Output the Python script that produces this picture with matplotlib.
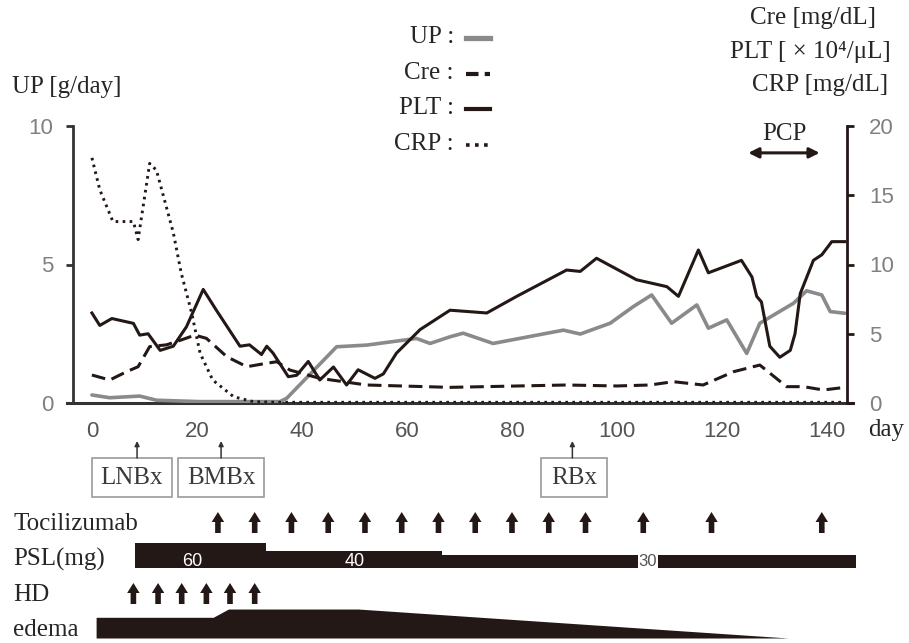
import matplotlib
matplotlib.use('AGG')
import matplotlib.pyplot as plt
import matplotlib.transforms as mtransforms
from matplotlib.lines import Line2D
from matplotlib.patches import FancyArrow, Rectangle

# ---- data ----
# UP [g/day] (left axis)
up_days = [0, 3.4, 9.1, 12.3, 20.6, 35.8, 37.1, 46.6, 52.3, 61.8, 64.4, 68.2, 70.7, 76.4,
           89.8, 93, 98.7, 103.1, 106.6, 110.4, 115.2, 117.4, 120.9, 124.7, 127.2, 133.6,
           136.1, 139, 140.6, 143.4]
up_vals = [0.29, 0.19, 0.25, 0.1, 0.05, 0.05, 0.17, 2.03, 2.09, 2.33, 2.15, 2.39, 2.52, 2.15,
           2.63, 2.49, 2.88, 3.48, 3.9, 2.88, 3.54, 2.7, 3.0, 1.79, 2.88, 3.6,
           4.05, 3.9, 3.3, 3.24]

# Cre [mg/dL] (right axis)
cre_days = [0, 3.4, 6.6, 8.8, 11, 14.2, 17, 19.6, 21.8, 25.7, 29.5, 33.3, 35.2, 37.7, 43.4,
            52.3, 68.2, 90.4, 99.9, 106.3, 110.7, 116.4, 122.2, 127.2, 132.3, 135.5, 139.3, 143.4]
cre_vals = [2.02, 1.66, 2.26, 2.62, 4.07, 4.2, 4.55, 4.9, 4.67, 3.34, 2.62, 2.87, 2.98, 2.38, 1.78,
            1.3, 1.13, 1.3, 1.23, 1.3, 1.54, 1.3, 2.26, 2.74, 1.18, 1.18, 0.94, 1.13]

# PLT [x10^4/uL] (right axis)
plt_days = [0, 1.5, 3.8, 7.9, 9.1, 10.7, 13, 15.5, 18, 21.2, 23.7, 28.2, 30, 32.3, 33.3, 34.5,
            37.4, 39, 41.2, 43.4, 46, 48.5, 50.7, 53.9, 55.5, 58, 62.5, 68.2, 75.2, 80.9, 90.4,
            93, 96.1, 103.7, 109.5, 111.7, 115.5, 117.4, 123.7, 125.7, 126.6, 127.5, 129.1,
            131, 133, 133.9, 134.9, 137.4, 139, 140.9, 143.4]
plt_vals = [6.5, 5.6, 6.1, 5.75, 4.9, 5.0, 3.8, 4.1, 5.5, 8.2, 6.7, 4.1, 4.2, 3.5, 4.1, 3.6,
            1.9, 2.0, 3.0, 1.66, 2.6, 1.3, 2.4, 1.78, 2.1, 3.6, 5.3, 6.7, 6.5, 7.7, 9.6,
            9.5, 10.45, 8.9, 8.4, 7.7, 11.05, 9.4, 10.3, 9.1, 7.7, 7.3, 4.1,
            3.3, 3.8, 5.0, 7.9, 10.3, 10.7, 11.65, 11.65]

# CRP [mg/dL] (right axis)
crp_days = [0, 1.5, 4, 7.9, 8.8, 11, 12.3, 15.5, 17, 19, 20.6, 23, 27, 30.7, 35, 143.4]
crp_vals = [17.7, 15.4, 13.1, 13.1, 11.8, 17.3, 16.8, 12.3, 9.4, 6.5, 3.6, 1.66, 0.45, 0.1, 0.05, 0.05]

# events
biopsy_names = ['LNBx', 'BMBx', 'RBx']
biopsy_days = [8.6, 24.6, 91.5]
biopsy_box_start = [0.0, 16.4, 85.5]
biopsy_box_end = [15.2, 32.8, 98.1]

toci_days = [24, 31, 38, 45, 52, 59, 66, 73, 80, 87, 94, 105, 118, 139]
hd_days = [7.9, 12.6, 17.1, 21.8, 26.3, 31.0]

psl_start = [8.2, 33.1, 66.6]
psl_end = [33.1, 66.6, 145.6]
psl_dose = [60, 40, 30]
psl_label_day = [19.2, 50.1, 105.9]

edema_days = [0.8, 23.1, 26.0, 50.7, 132.6]
edema_level = [1.0, 1.0, 1.4, 1.4, 0.0]

pcp_start, pcp_end = 125, 138.6

# ---- style ----
SERIF = ['Liberation Serif', 'DejaVu Serif']
SANS = ['Liberation Sans', 'DejaVu Sans']
DARK = '#231815'
TXT = '#262626'
GRAY_LINE = '#8a8a8a'
TICK_GRAY = '#808080'
FS = 18

W, H = 909, 643
fig = plt.figure(figsize=(W / 100, H / 100), dpi=100)


def fx(px):
    return px / W


def fy(py):
    return 1 - py / H


ax_left, ax_right, ax_top, ax_bot = 73, 847, 126, 403
xmin, xmax = -3.6, 143.8

ax = fig.add_axes([fx(ax_left), fy(ax_bot), fx(ax_right - ax_left), (ax_bot - ax_top) / H])
ax2 = ax.twinx()

ax.plot(up_days, up_vals, color=GRAY_LINE, lw=2.6, solid_capstyle='round', zorder=3)
ax2.plot(cre_days, cre_vals, color=DARK, lw=2.2, linestyle=(0, (4.5, 2.2)), zorder=3)
ax2.plot(plt_days, plt_vals, color=DARK, lw=2.2, zorder=4)
ax2.plot(crp_days, crp_vals, color=DARK, lw=2.1, linestyle=(0, (0.9, 1.5)), zorder=3)

ax.set_xlim(xmin, xmax)
ax.set_ylim(0, 10)
ax2.set_ylim(0, 20)
ax.set_yticks([0, 5, 10])
ax2.set_yticks([0, 5, 10, 15, 20])
ax.set_xticks(range(0, 141, 20))

ax.spines['top'].set_visible(False)
ax2.spines['top'].set_visible(False)
ax.spines['right'].set_visible(False)
ax2.spines['left'].set_visible(False)
ax2.spines['bottom'].set_visible(False)
ax.spines['bottom'].set_visible(False)
ax.spines['left'].set_color('#333333')
ax.spines['left'].set_linewidth(2)
ax2.spines['right'].set_color(DARK)
ax2.spines['right'].set_linewidth(2)

# x axis line slightly wider than the plot area, like the original
ext = 6 / 5.25
ax.plot([xmin - ext, xmax + ext], [0, 0], color='#333333', lw=2.2, clip_on=False, zorder=2)

ax.tick_params(axis='x', length=0, pad=13, labelsize=16, labelcolor='#555555')
ax.tick_params(axis='y', length=5, width=2, color='#333333', pad=9, labelsize=16,
               labelcolor=TICK_GRAY)
ax2.tick_params(axis='y', length=5, width=2, color=DARK, pad=11, labelsize=16,
                labelcolor=TICK_GRAY)
for lab in ax.get_xticklabels() + ax.get_yticklabels() + ax2.get_yticklabels():
    lab.set_family(SANS)

# PCP double arrow
ax.annotate('', xy=(pcp_start, 9.03), xytext=(pcp_end, 9.03),
            arrowprops=dict(arrowstyle='<|-|>', lw=2.2, color=DARK, mutation_scale=15,
                            shrinkA=0, shrinkB=0), annotation_clip=False)
ax.text((pcp_start + pcp_end) / 2, 9.7, 'PCP', ha='center', va='center',
        fontsize=FS, family=SERIF, color=TXT)

# axis titles
fig.text(fx(12), fy(87), 'UP [g/day]', ha='left', va='center', fontsize=FS, family=SERIF,
         color=TXT)
for txt, px, py in [('Cre [mg/dL]', 813, 18), ('PLT [ \u00d7 10\u2074/\u03bcL]', 810, 52),
                    ('CRP [mg/dL]', 820, 85)]:
    fig.text(fx(px), fy(py), txt, ha='center', va='center', fontsize=FS, family=SERIF,
             color=TXT)
fig.text(fx(868), fy(430), 'day', ha='left', va='center', fontsize=FS, family=SERIF,
         color=TXT)

# legend
legend_rows = [('UP :', 37, dict(color=GRAY_LINE, lw=3.8, linestyle='-')),
               ('Cre :', 73, dict(color=DARK, lw=3.0, linestyle=(0, (3, 1.5)))),
               ('PLT :', 108, dict(color=DARK, lw=3.0, linestyle='-')),
               ('CRP :', 144, dict(color=DARK, lw=2.6, linestyle=(0, (1, 1.5))))]
for txt, py, st in legend_rows:
    fig.text(fx(454), fy(py), txt, ha='right', va='center', fontsize=FS, family=SERIF,
             color=TXT)
    fig.add_artist(Line2D([fx(466), fx(490)], [fy(py + 1), fy(py + 1)],
                          transform=fig.transFigure, **st))

# ---- lower panel (y in pixel rows, x shared with main axis) ----
axb = fig.add_axes([fx(ax_left), 0, fx(ax_right - ax_left), (H - 436) / H])
axb.set_xlim(xmin, xmax)
axb.set_ylim(H, 436)
axb.axis('off')
row_tr = mtransforms.blended_transform_factory(fig.transFigure, axb.transData)

# biopsies
for name, d, b0, b1 in zip(biopsy_names, biopsy_days, biopsy_box_start, biopsy_box_end):
    axb.annotate('', xy=(d, 441), xytext=(d, 458),
                 arrowprops=dict(arrowstyle='-|>', lw=1.1, color='#333333',
                                 mutation_scale=7, shrinkA=0, shrinkB=0))
    axb.add_patch(Rectangle((b0, 458), b1 - b0, 39, facecolor='white',
                            edgecolor='#9a9a9a', lw=1.2, clip_on=False))
    axb.text((b0 + b1) / 2, 478, name, ha='center', va='center', fontsize=FS,
             family=SERIF, color='#3a3a3a')


def block_arrow(day, y_base):
    axb.add_patch(FancyArrow(day, y_base, 0, -21, width=5.6 / 5.25, head_width=12.5 / 5.25,
                             head_length=10, length_includes_head=True,
                             color=DARK, lw=0, clip_on=False))


axb.text(fx(13), 524, 'Tocilizumab', transform=row_tr, ha='left', va='center',
         fontsize=FS, family=SERIF, color=TXT)
for d in toci_days:
    block_arrow(d, 533)

# PSL
axb.text(fx(13), 559, 'PSL(mg)', transform=row_tr, ha='left', va='center',
         fontsize=FS, family=SERIF, color=TXT)
psl_scale = 0.42  # px per mg
axb.bar(psl_start, [-d * psl_scale for d in psl_dose], bottom=568,
        width=[e - s for s, e in zip(psl_start, psl_end)], align='edge',
        color=DARK, lw=0, clip_on=False)
for i, (d, lx) in enumerate(zip(psl_dose, psl_label_day)):
    if i < 2:
        axb.text(lx, 561, str(d), ha='center', va='center', fontsize=13, family=SANS,
                 color='white')
    else:
        axb.text(lx, 562, str(d), ha='center', va='center', fontsize=12, family=SANS,
                 color='#555555',
                 bbox=dict(facecolor='white', edgecolor='none', pad=0.4))

# HD
axb.text(fx(13), 595, 'HD', transform=row_tr, ha='left', va='center',
         fontsize=FS, family=SERIF, color=TXT)
for d in hd_days:
    block_arrow(d, 604)

# edema
axb.text(fx(13), 630, 'edema', transform=row_tr, ha='left', va='center',
         fontsize=FS, family=SERIF, color=TXT)
edema_scale = 20.7  # px per level
axb.fill_between(edema_days, 638, [638 - lv * edema_scale for lv in edema_level],
                 color=DARK, lw=0, clip_on=False)

fig.savefig('out.png', dpi=100)
